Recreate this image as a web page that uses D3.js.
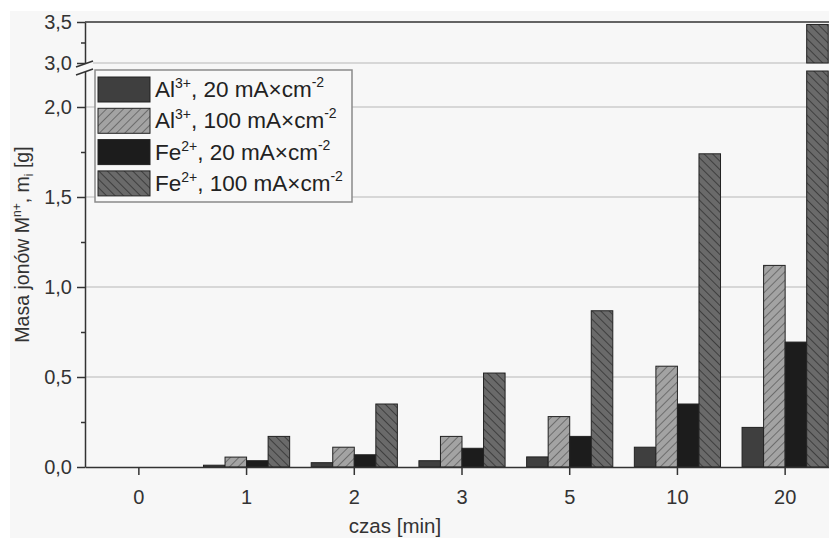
<!DOCTYPE html>
<html>
<head>
<meta charset="utf-8">
<script src="https://cdn.jsdelivr.net/npm/d3@7"></script>
<style>
  body { margin: 0; background: #fff; }
  svg { display: block; font-family: "Liberation Sans", Arial, sans-serif; }
</style>
</head>
<body>
<svg id="chart" width="829" height="538"></svg>
<script>
// data
const categories = ["0", "1", "2", "3", "5", "10", "20"];
const al20  = [0, 0.010, 0.024, 0.035, 0.056, 0.110, 0.220];
const al100 = [0, 0.055, 0.110, 0.170, 0.280, 0.560, 1.120];
const fe20  = [0, 0.035, 0.068, 0.104, 0.170, 0.350, 0.694];
const fe100 = [0, 0.170, 0.350, 0.522, 0.868, 1.740, 3.470];
const seriesNames = ["al20", "al100", "fe20", "fe100"];
const lowTicks = [0, 0.5, 1.0, 1.5, 2.0];
const lowMinor = [0.25, 0.75, 1.25, 1.75];
const highTicks = [3.0, 3.5];
const highMinor = [3.25];

const series = { al20: al20, al100: al100, fe20: fe20, fe100: fe100 };

const svg = d3.select("#chart");
const W = 829, H = 538;
const mLeft = 85, mRight = 839, mTop = 22, mBottom = 467;
const breakLow = 2.2, breakHigh = 3.0, yMax = 3.5;

// background of the figure
svg.append("rect").attr("x", 10).attr("y", 11).attr("width", W).attr("height", H)
  .attr("fill", "#f7f7f7");

const defs = svg.append("defs");
function hatch(id, bg, line, dir) {
  const p = defs.append("pattern").attr("id", id)
    .attr("patternUnits", "userSpaceOnUse").attr("width", 6).attr("height", 6)
    .attr("patternTransform", `rotate(${dir})`);
  p.append("rect").attr("width", 6).attr("height", 6).attr("fill", bg);
  p.append("line").attr("x1", 0).attr("y1", 0).attr("x2", 0).attr("y2", 6)
    .attr("stroke", line).attr("stroke-width", 1.6);
}
hatch("hAl", "#a3a3a3", "#5e5e5e", 45);
hatch("hFe", "#6a6a6a", "#333", -45);

const fills = { al20: "#3f3f3f", al100: "url(#hAl)", fe20: "#1c1c1c", fe100: "url(#hFe)" };

// scales
const x0 = d3.scaleBand().domain(categories).range([mLeft, mRight])
  .paddingInner(0.2).paddingOuter(0.1);
const x1 = d3.scaleBand().domain(seriesNames).range([0, x0.bandwidth()]);
const yLow = d3.scaleLinear().domain([0, breakLow]).range([mBottom, 71]);
const yHigh = d3.scaleLinear().domain([breakHigh, yMax]).range([63, mTop]);

const locale = d3.formatLocale({ decimal: ",", thousands: " ", grouping: [3], currency: ["", ""] });
const fmt = locale.format(".1f");

// gridlines
const grid = svg.append("g").attr("stroke", "#cdcdcd").attr("stroke-width", 1.5);
lowTicks.filter(d => d > 0).forEach(d => {
  grid.append("line").attr("x1", mLeft).attr("x2", W).attr("y1", yLow(d)).attr("y2", yLow(d));
});
grid.append("line").attr("x1", mLeft).attr("x2", W).attr("y1", yHigh(3.0)).attr("y2", yHigh(3.0));

// bars
const groups = svg.append("g").selectAll("g").data(categories).join("g")
  .attr("transform", d => `translate(${x0(d)},0)`);

groups.each(function(cat, i) {
  const g = d3.select(this);
  seriesNames.forEach(s => {
    const v = series[s][i];
    if (v <= 0) return;
    const bx = x1(s), bw = x1.bandwidth();
    if (v <= breakLow) {
      g.append("rect").attr("x", bx).attr("width", bw)
        .attr("y", yLow(v)).attr("height", yLow(0) - yLow(v))
        .attr("fill", fills[s]).attr("stroke", "#222").attr("stroke-width", 1);
    } else {
      g.append("rect").attr("x", bx).attr("width", bw)
        .attr("y", yLow(breakLow)).attr("height", yLow(0) - yLow(breakLow))
        .attr("fill", fills[s]).attr("stroke", "#222").attr("stroke-width", 1);
      g.append("rect").attr("x", bx).attr("width", bw)
        .attr("y", yHigh(v)).attr("height", yHigh(breakHigh) - yHigh(v))
        .attr("fill", fills[s]).attr("stroke", "#222").attr("stroke-width", 1);
    }
  });
});

// axes
function styleAxis(g) {
  g.attr("font-family", null);
  g.selectAll("path, line").attr("stroke", "#333").attr("stroke-width", 1.5);
  g.selectAll("text").attr("fill", "#333").attr("font-size", 20);
}

svg.append("g").attr("transform", `translate(${mLeft},0)`)
  .call(d3.axisLeft(yLow).tickValues(lowTicks).tickFormat(fmt).tickSize(8).tickSizeOuter(0).tickPadding(5))
  .call(styleAxis);
svg.append("g").attr("transform", `translate(${mLeft},0)`)
  .call(d3.axisLeft(yLow).tickValues(lowMinor).tickFormat("").tickSize(4).tickSizeOuter(0))
  .call(styleAxis).call(g => g.select(".domain").remove());
svg.append("g").attr("transform", `translate(${mLeft},0)`)
  .call(d3.axisLeft(yHigh).tickValues(highTicks).tickFormat(fmt).tickSize(8).tickSizeOuter(0).tickPadding(5))
  .call(styleAxis);
svg.append("g").attr("transform", `translate(${mLeft},0)`)
  .call(d3.axisLeft(yHigh).tickValues(highMinor).tickFormat("").tickSize(4).tickSizeOuter(0))
  .call(styleAxis).call(g => g.select(".domain").remove());

svg.append("g").attr("transform", `translate(0,${mBottom})`)
  .call(d3.axisBottom(x0).tickSize(8).tickSizeOuter(0).tickPadding(15))
  .call(styleAxis);

// top frame line
svg.append("line").attr("x1", mLeft).attr("x2", W).attr("y1", mTop).attr("y2", mTop)
  .attr("stroke", "#333").attr("stroke-width", 1.5);

// axis break marks
const brk = svg.append("g");
brk.append("polygon").attr("points", `${mLeft-8},67 ${mLeft+8},61 ${mLeft+8},69 ${mLeft-8},75`)
  .attr("fill", "#f7f7f7");
[[67, 61], [75, 69]].forEach(([a, b]) => {
  brk.append("line").attr("x1", mLeft - 9).attr("y1", a).attr("x2", mLeft + 8).attr("y2", b)
    .attr("stroke", "#333").attr("stroke-width", 1.5);
});

// axis titles
svg.append("text").attr("x", 395).attr("y", 533).attr("text-anchor", "middle")
  .attr("font-size", 20.5).attr("fill", "#333").text("czas [min]");

const yt = svg.append("text").attr("transform", `translate(29,${(mTop + mBottom) / 2}) rotate(-90)`)
  .attr("text-anchor", "middle").attr("font-size", 19.5).attr("fill", "#333");
yt.append("tspan").text("Masa jonów M");
yt.append("tspan").attr("font-size", 12).attr("dy", -8).text("n+");
yt.append("tspan").attr("dy", 8).text(", m");
yt.append("tspan").attr("font-size", 12).attr("dy", 4).text("i");
yt.append("tspan").attr("dy", -4).text(" [g]");

// legend
const legendItems = [
  { key: "al20", ion: "Al", charge: "3+", cur: "20" },
  { key: "al100", ion: "Al", charge: "3+", cur: "100" },
  { key: "fe20", ion: "Fe", charge: "2+", cur: "20" },
  { key: "fe100", ion: "Fe", charge: "2+", cur: "100" }
];
const leg = svg.append("g").attr("transform", "translate(95,70)");
leg.append("rect").attr("width", 257).attr("height", 132)
  .attr("fill", "#f8f8f8").attr("stroke", "#8a8a8a").attr("stroke-width", 1.5);
const rows = leg.selectAll("g.row").data(legendItems).join("g")
  .attr("transform", (d, i) => `translate(3,${7 + i * 31.3})`);
rows.append("rect").attr("width", 52).attr("height", 25)
  .attr("fill", d => fills[d.key]).attr("stroke", "#222").attr("stroke-width", 1);
const lt = rows.append("text").attr("x", 57).attr("y", 20).attr("font-size", 22.5).attr("fill", "#222");
lt.append("tspan").text(d => d.ion);
lt.append("tspan").attr("font-size", 14).attr("dy", -9).text(d => d.charge);
lt.append("tspan").attr("dy", 9).text(d => `, ${d.cur} mA×cm`);
lt.append("tspan").attr("font-size", 14).attr("dy", -10).text("-2");
</script>
</body>
</html>
